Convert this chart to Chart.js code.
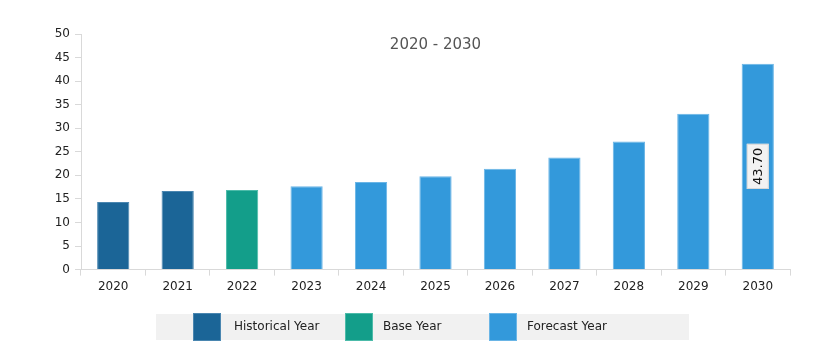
<!DOCTYPE html>
<html>
<head>
<meta charset="utf-8">
<script src="https://cdn.jsdelivr.net/npm/chart.js@4/dist/chart.umd.min.js"></script>
<style>
  html, body { margin: 0; padding: 0; background: #fff; }
  #wrap { position: relative; width: 814px; height: 352px; }
</style>
</head>
<body>
<div id="wrap"><canvas id="c" width="814" height="352"></canvas></div>
<script>
// Values.
const years = ['2020', '2021', '2022', '2023', '2024', '2025', '2026', '2027', '2028', '2029', '2030'];
const values = [14.35, 16.7, 16.9, 17.7, 18.6, 19.8, 21.4, 23.8, 27.2, 33.1, 43.7];
const yearKind = ['hist', 'hist', 'base', 'fore', 'fore', 'fore', 'fore', 'fore', 'fore', 'fore', 'fore'];
const labelledIndex = 10;
const titleText = '2020 - 2030';

const kinds = {
  hist: { name: 'Historical Year', fill: '#1b6597', edge: '#4a86b0' },
  base: { name: 'Base Year', fill: '#139e8a', edge: '#4cbba9' },
  fore: { name: 'Forecast Year', fill: '#3399db', edge: '#6ab5e6' },
};
const FONT = '"DejaVu Sans", sans-serif';

// Gray legend band drawn under the chart (custom, because of the shaded background).
const legendBand = {
  id: 'legendBand',
  afterDraw(chart) {
    const ctx = chart.ctx;
    ctx.save();
    ctx.fillStyle = '#f1f1f1';
    ctx.fillRect(156, 314, 533, 26);
    const items = [
      { k: 'hist', x: 193, tx: 234 },
      { k: 'base', x: 345, tx: 383 },
      { k: 'fore', x: 489, tx: 527 },
    ];
    ctx.font = '12px ' + FONT;
    ctx.textBaseline = 'middle';
    for (const it of items) {
      const k = kinds[it.k];
      ctx.fillStyle = k.fill;
      ctx.fillRect(it.x, 313, 28, 28);
      ctx.strokeStyle = k.edge;
      ctx.lineWidth = 1;
      ctx.strokeRect(it.x + 0.5, 313.5, 27, 27);
      ctx.fillStyle = '#222';
      ctx.fillText(k.name, it.tx, 327);
    }
    ctx.restore();
  },
};

// Title inside the plot area + rotated value label on the last bar.
const extras = {
  id: 'extras',
  afterDatasetsDraw(chart) {
    const ctx = chart.ctx;
    const area = chart.chartArea;
    ctx.save();
    ctx.font = '15px ' + FONT;
    ctx.fillStyle = '#555';
    ctx.textAlign = 'center';
    ctx.textBaseline = 'middle';
    ctx.fillText(titleText, (area.left + area.right) / 2, 45);

    const bar = chart.getDatasetMeta(0).data[labelledIndex];
    const cx = bar.x;
    const cy = (bar.y + bar.base) / 2;
    const txt = values[labelledIndex].toFixed(2);
    ctx.translate(cx, cy);
    ctx.rotate(-Math.PI / 2);
    ctx.font = '13px ' + FONT;
    const w = ctx.measureText(txt).width + 8;
    ctx.fillStyle = '#f2f2f2';
    ctx.fillRect(-w / 2, -11, w, 22);
    ctx.strokeStyle = '#d8d8d8';
    ctx.strokeRect(-w / 2 + 0.5, -10.5, w - 1, 21);
    ctx.fillStyle = '#111';
    ctx.fillText(txt, 0, 1);
    ctx.restore();
  },
};

new Chart(document.getElementById('c').getContext('2d'), {
  type: 'bar',
  data: {
    labels: years,
    datasets: [{
      data: values,
      backgroundColor: yearKind.map((k) => kinds[k].fill),
      borderColor: yearKind.map((k) => kinds[k].edge),
      borderWidth: 1,
      borderSkipped: 'bottom',
      barPercentage: 0.5,
      categoryPercentage: 1,
    }],
  },
  options: {
    responsive: false,
    animation: false,
    devicePixelRatio: 1,
    layout: { padding: { top: 34, right: 24, bottom: 54, left: 0 } },
    plugins: { legend: { display: false }, tooltip: { enabled: false }, title: { display: false } },
    scales: {
      x: {
        grid: { drawOnChartArea: false, drawTicks: true, tickLength: 6, color: '#d9d9d9' },
        border: { color: '#d9d9d9' },
        ticks: { color: '#222', font: { family: FONT, size: 12 }, padding: 4, maxRotation: 0 },
      },
      y: {
        min: 0,
        max: 50,
        afterFit: (s) => { s.width = 81; },
        grid: { drawOnChartArea: false, drawTicks: true, tickLength: 6, color: '#d9d9d9' },
        border: { color: '#d9d9d9' },
        ticks: { stepSize: 5, color: '#222', font: { family: FONT, size: 12 }, padding: 5 },
      },
    },
  },
  plugins: [extras, legendBand],
});
</script>
</body>
</html>
